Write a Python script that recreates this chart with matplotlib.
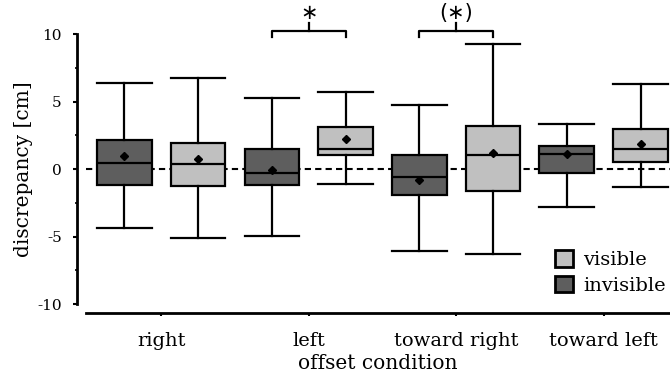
import matplotlib.pyplot as plt
from matplotlib.patches import Patch
from matplotlib.ticker import MultipleLocator

conditions = ['right', 'left', 'toward right', 'toward left']

# box statistics per condition, in cm
invisible_whislo = [-4.37, -4.99, -6.10, -2.81]
invisible_q1 = [-1.16, -1.16, -1.91, -0.30]
invisible_med = [0.44, -0.30, -0.62, 1.11]
invisible_mean = [0.98, -0.10, -0.84, 1.11]
invisible_q3 = [2.17, 1.47, 1.06, 1.67]
invisible_whishi = [6.39, 5.23, 4.74, 3.33]

visible_whislo = [-5.11, -1.10, -6.30, -1.36]
visible_q1 = [-1.29, 1.06, -1.66, 0.52]
visible_med = [0.37, 1.50, 1.06, 1.48]
visible_mean = [0.74, 2.24, 1.19, 1.87]
visible_q3 = [1.93, 3.10, 3.16, 2.96]
visible_whishi = [6.71, 5.73, 9.26, 6.30]

# significance markers: (condition index, label)
signif = [(1, '∗'), (2, '(∗)')]

dark = '#5e5e5e'
light = '#c0c0c0'

plt.rcParams['font.family'] = 'DejaVu Serif'
plt.rcParams['font.size'] = 11
plt.rcParams['axes.unicode_minus'] = False


def make_stats(lo, q1, med, mean, q3, hi):
    return [{'whislo': a, 'q1': b, 'med': c, 'mean': d, 'q3': e, 'whishi': f,
             'fliers': []}
            for a, b, c, d, e, f in zip(lo, q1, med, mean, q3, hi)]


fig = plt.figure(figsize=(6.7, 3.77), dpi=100)
ax = fig.add_axes([86 / 670, 73 / 377, 584 / 670, 270 / 377])

centers = list(range(1, len(conditions) + 1))
off = 0.25
width = 0.37

line = dict(color='black', linewidth=1.6)
common = dict(widths=width, patch_artist=True, showmeans=True,
              whiskerprops=line, capprops=line, medianprops=line,
              meanprops=dict(marker='D', markerfacecolor='black',
                             markeredgecolor='black', markersize=4.5),
              zorder=3)

ax.axhline(0, color='black', linestyle=(0, (3, 2)), linewidth=1.5, zorder=2)

ax.bxp(make_stats(invisible_whislo, invisible_q1, invisible_med,
                  invisible_mean, invisible_q3, invisible_whishi),
       positions=[c - off for c in centers],
       boxprops=dict(facecolor=dark, edgecolor='black', linewidth=1.6),
       capwidths=width, **common)
ax.bxp(make_stats(visible_whislo, visible_q1, visible_med,
                  visible_mean, visible_q3, visible_whishi),
       positions=[c + off for c in centers],
       boxprops=dict(facecolor=light, edgecolor='black', linewidth=1.6),
       capwidths=width, **common)

# significance brackets above the pairs
for i, label in signif:
    x0, x1 = centers[i] - off, centers[i] + off
    xm = centers[i]
    ax.plot([x0, x0, x1, x1], [9.75, 10.19, 10.19, 9.75], color='black',
            linewidth=1.6, clip_on=False)
    ax.plot([xm, xm], [10.19, 10.8], color='black', linewidth=1.6,
            clip_on=False)
    ax.text(xm, 11.55, label, ha='center', va='center', fontsize=15,
            family='DejaVu Sans')

ax.set_xlim(0.49, 4.45)
ax.set_ylim(-10, 10)
ax.set_xticks(centers)
ax.set_xticklabels(conditions)
ax.yaxis.set_major_locator(MultipleLocator(5))
ax.yaxis.set_minor_locator(MultipleLocator(2.5))
ax.tick_params(axis='y', which='major', length=3, width=1.5, pad=8,
               labelsize=11)
ax.tick_params(axis='y', which='minor', length=1.5, width=1.2)
ax.tick_params(axis='x', length=2.5, width=1.5, pad=11, labelsize=14)

ax.spines['top'].set_visible(False)
ax.spines['right'].set_visible(False)
ax.spines['left'].set_position(('outward', 6.5))
ax.spines['bottom'].set_position(('outward', 6.3))
ax.spines['left'].set_linewidth(2)
ax.spines['bottom'].set_linewidth(2)
ax.spines['left'].set_bounds(-10, 10)

ax.set_ylabel('discrepancy [cm]', fontsize=14.5, labelpad=3)
ax.set_xlabel('offset condition', fontsize=14.5, labelpad=3)

handles = [Patch(facecolor=light, edgecolor='black', linewidth=2, label='visible'),
           Patch(facecolor=dark, edgecolor='black', linewidth=2, label='invisible')]
fig.legend(handles=handles, loc='upper left',
           bbox_to_anchor=(547 / 670, 1 - 242 / 377), frameon=False,
           handlelength=0.95, handleheight=0.95, handletextpad=0.5,
           labelspacing=0.35, borderaxespad=0, fontsize=14)

fig.savefig('out.png', dpi=100)
